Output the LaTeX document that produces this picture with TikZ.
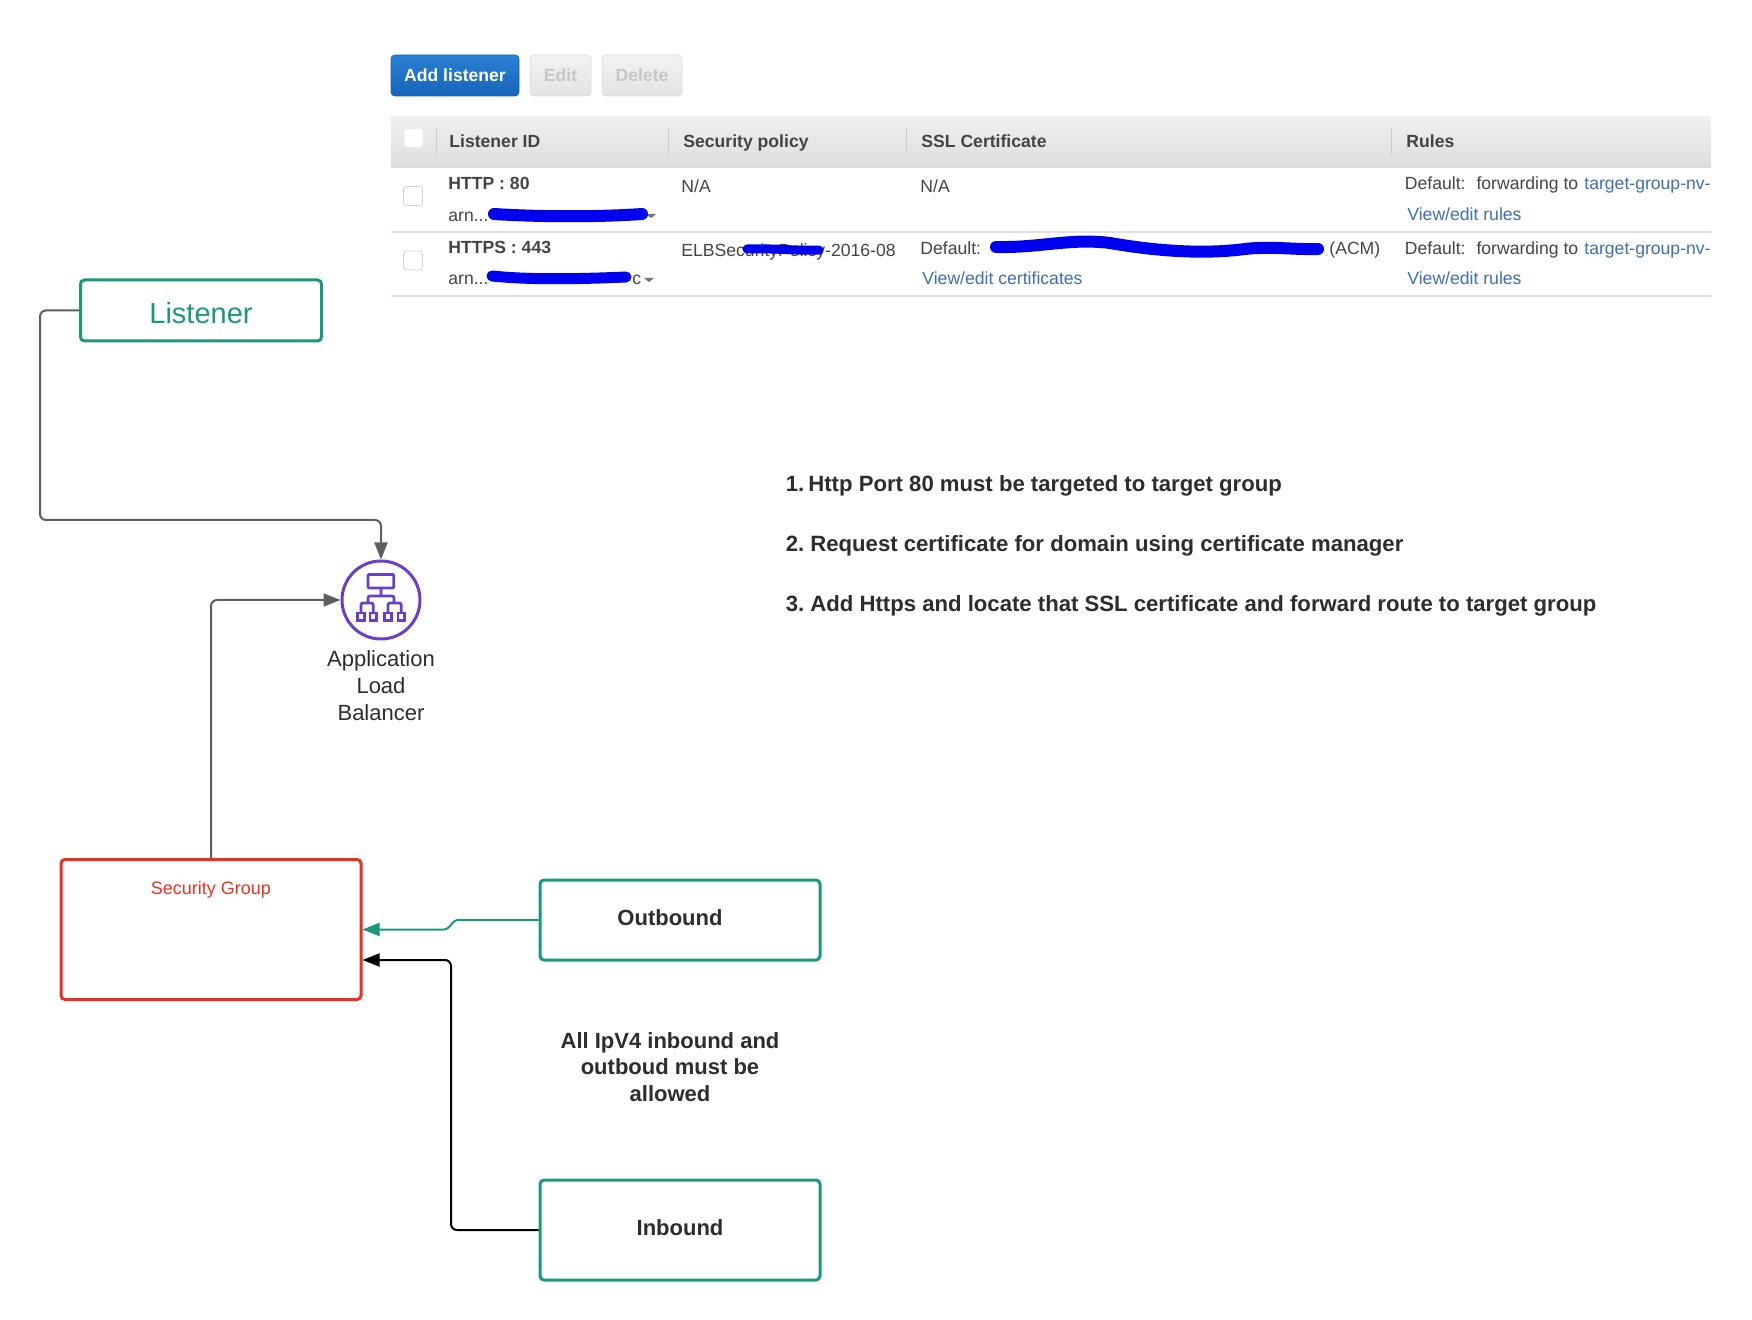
\documentclass[tikz,border=0pt]{standalone}
\usepackage{fontspec}
\setmainfont{Liberation Sans}
\usetikzlibrary{arrows.meta,positioning}
\definecolor{tealline}{HTML}{1A977C}
\definecolor{redline}{HTML}{E8311F}
\definecolor{purpleline}{HTML}{6A3EC6}
\definecolor{greyline}{HTML}{5E5E5E}
\definecolor{inktext}{HTML}{2B2D30}
\definecolor{celltext}{HTML}{444444}
\definecolor{linktext}{HTML}{3C6FB5}
\definecolor{inkblue}{HTML}{0000F0}
\definecolor{addtop}{HTML}{2A80D2}
\definecolor{addbottom}{HTML}{1865B8}
\tikzset{
  tealbox/.style={draw=tealline, line width=1.5pt, rounded corners=2pt, inner sep=0pt},
  boldlabel/.style={font=\fontsize{11}{13.4}\selectfont\bfseries, text=inktext, align=center},
  linkline/.style={line width=1pt, rounded corners=3pt, -{Triangle[length=8.5pt,width=6.5pt]}},
  greybtn/.style={draw=black!13, rounded corners=2pt, inner sep=0pt, minimum height=20.5pt,
    top color=black!5, bottom color=black!11, text=black!22, font=\fontsize{8.8}{10}\selectfont\bfseries},
  checkbox/.style={draw=black!18, fill=white, rounded corners=1.5pt, inner sep=0pt, minimum width=9.5pt, minimum height=9.5pt},
  hdrcell/.style={anchor=base west, inner sep=0pt, text=celltext, font=\fontsize{8.8}{10}\selectfont\bfseries},
  cell/.style={anchor=base west, inner sep=0pt, text=celltext, font=\fontsize{8.8}{10}\selectfont},
  boldcell/.style={cell, font=\fontsize{8.8}{10}\selectfont\bfseries},
  linkcell/.style={cell, text=linktext},
  notetext/.style={anchor=base west, inner sep=0pt, text=inktext, font=\fontsize{11.07}{13}\selectfont\bfseries},
  inkstroke/.style={draw=inkblue, line cap=round, line join=round},
  iconline/.style={purpleline, line width=1.35pt},
}
\begin{document}
\begin{tikzpicture}[x=0.5pt, y=-0.5pt]
\useasboundingbox (0,0) rectangle (1752,1320);

% Botones
\node[draw=addbottom, rounded corners=2pt, inner sep=0pt, minimum width=64pt, minimum height=20.5pt,
  top color=addtop, bottom color=addbottom, text=white,
  font=\fontsize{8.8}{10}\selectfont\bfseries] (addbtn) at (455,75.5) {Add listener};
\node[greybtn, minimum width=30.5pt] (editbtn) at (560.5,75.5) {Edit};
\node[greybtn, minimum width=40pt] (deletebtn) at (642,75.5) {Delete};

% Tabla
\shade[top color=black!6, bottom color=black!13] (391,117) rectangle (1711,167);
\draw[black!15, line width=1pt] (391,167.5) -- (1711,167.5);
\draw[black!12, line width=0.8pt] (391,232) -- (1711,232);
\draw[black!12, line width=0.8pt] (391,296) -- (1711,296);
\foreach \sepx in {436,668,906,1391}
  \draw[white!80!black, line width=0.5pt] (\sepx,128) -- (\sepx,154);
\node[checkbox, draw=black!8] (checkhdr) at (413.5,138) {};
\node[checkbox] (checkone) at (413,196) {};
\node[checkbox] (checktwo) at (413,260.5) {};

% Cabecera
\node[hdrcell] (hdrid) at (449,148) {Listener ID};
\node[hdrcell] (hdrpolicy) at (683,148) {Security policy};
\node[hdrcell] (hdrssl) at (921,148) {SSL Certificate};
\node[hdrcell] (hdrrules) at (1406,148) {Rules};

% Fila HTTP
\node[boldcell] (httpname) at (448,190) {HTTP : 80};
\node[cell] (httparn) at (448,222) {arn...};
\node[cell] (httppolicy) at (681,193) {N/A};
\node[cell] (httpssl) at (920,193) {N/A};
\node[cell] (httpdefault) at (1404.5,190) {Default:\hspace{5.5pt}forwarding to};
\node[linkcell] (httptarget) at (1584,190) {target-group-nv-};
\node[linkcell] (httprules) at (1407,221) {View/edit rules};

% Fila HTTPS
\node[boldcell] (httpsname) at (448,254) {HTTPS : 443};
\node[cell] (httpsarn) at (448,285) {arn...};
\node[cell] (httpsarnend) at (632,285) {c};
\node[cell] (httpspolicy) at (681,257) {ELBSecurityPolicy-2016-08};
\node[cell] (httpsdefault) at (920,255) {Default:};
\node[cell] (httpsacm) at (1329,255) {(ACM)};
\node[linkcell] (httpscerts) at (922,285) {View/edit certificates};
\node[cell] (httpsrulesdef) at (1404.5,255) {Default:\hspace{5.5pt}forwarding to};
\node[linkcell] (httpstarget) at (1584,255) {target-group-nv-};
\node[linkcell] (httpsrules) at (1407,285) {View/edit rules};

% Flechitas
\fill[black!55] (646,214) -- (656,214) -- (651,218) -- cycle;
\fill[black!55] (644,278) -- (654,278) -- (649,282) -- cycle;

% Tachones
\draw[inkstroke, line width=6pt] (494,214) .. controls (540,217) and (600,217) .. (642,214);
\draw[inkstroke, line width=4.5pt] (747,249) .. controls (770,248) and (800,251) .. (819,250);
\draw[inkstroke, line width=5.5pt] (492,276) .. controls (530,280) and (580,279) .. (626,277);
\draw[inkstroke, line width=6pt] (996,247) .. controls (1040,248) and (1070,238) .. (1110,243)
  .. controls (1150,250) and (1200,255) .. (1245,249) .. controls (1270,246) and (1300,250) .. (1318,249);

% Notas
\node[notetext] (noteone) at (785.5,492) {1.\hspace{2pt}Http Port 80 must be targeted to target group};
\node[notetext] (notetwo) at (785.5,552) {2.\hspace{3pt}Request certificate for domain using certificate manager};
\node[notetext] (notethree) at (785.5,612) {3.\hspace{3pt}Add Https and locate that SSL certificate and forward route to target group};

% Cajas
\node[tealbox, minimum width=120.5pt, minimum height=30.5pt, text=tealline, text height=13.3pt,
  font=\fontsize{14.5}{16}\selectfont] (listenerbox) at (201,310.5) {Listener};
\node[draw=redline, line width=1.5pt, rounded corners=2pt, minimum width=150pt, minimum height=70pt] (secgroup) at (211,929.5) {};
\node[inner sep=0pt, text=redline, font=\fontsize{9}{11}\selectfont] (seclabel) at (211,890) {Security Group};
\node[tealbox, boldlabel, minimum width=140pt, minimum height=40pt, text depth=2pt] (outbound) at (680,920) {Outbound\hspace{10pt}};
\node[tealbox, boldlabel, minimum width=140pt, minimum height=50pt, text depth=2.4pt] (inbound) at (680,1230) {Inbound};
\node[boldlabel] (allownote) at (670,1067) {All IpV4 inbound and\\outboud must be\\allowed};

% Balanceador
\node[circle, draw=purpleline, line width=1.5pt, minimum size=39pt, inner sep=0pt] (alb) at (381,600) {};
\node[below=5pt of alb, inner sep=0pt, align=center, text=inktext, font=\fontsize{11}{13.4}\selectfont] (alblabel) {Application\\Load\\Balancer};
\draw[iconline, rounded corners=0.5pt] (368,574.6) rectangle (393.7,588);
\draw[iconline, rounded corners=1pt] (381,588) -- (381,596)
  (368,603) -- (368,596) -- (394,596) -- (394,603);
\draw[iconline, rounded corners=1pt] (361,613) -- (361,603) -- (373.3,603) -- (373.3,613)
  (388,613) -- (388,603) -- (401.3,603) -- (401.3,613);
\foreach \boxx in {361,373.3,388,401.3}
  \draw[iconline] (\boxx-3.2,613) rectangle (\boxx+3.2,620.4);

% Conectores
\coordinate (listenerbend) at (40,520);
\coordinate (outjogin) at (455,920);
\coordinate (outjogout) at (447,929.5);
\coordinate (inbend) at (451,960);
\coordinate (secin) at (362.5,960);
\draw[linkline, greyline] (listenerbox.west) -| (listenerbend) -| (alb.north);
\draw[linkline, greyline] (secgroup.north) |- (alb.west);
\draw[linkline, tealline, rounded corners=1.5pt] (outbound.west) -- (outjogin) -- (outjogout) -- (secgroup.east);
\draw[linkline, black] (inbound.west) -| (inbend) -- (secin);

\end{tikzpicture}
\end{document}
